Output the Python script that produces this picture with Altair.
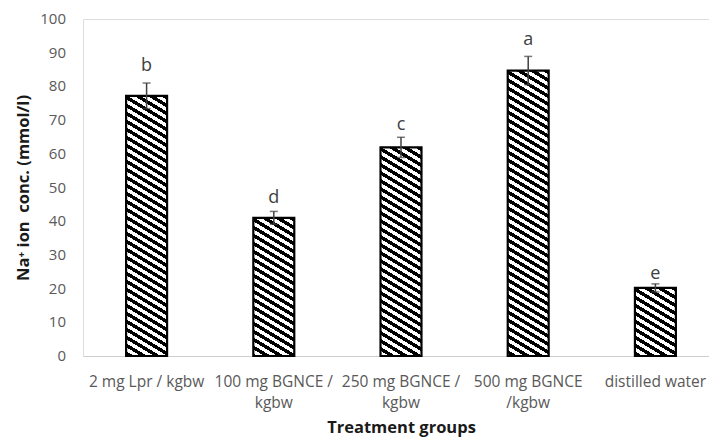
import json
import altair as alt
import pandas as pd

# ---- data ----
categories = ["2 mg Lpr / kgbw", "100 mg BGNCE / kgbw", "250 mg BGNCE / kgbw",
              "500 mg BGNCE /kgbw", "distilled water"]
tick_lines = [["2 mg Lpr / kgbw"], ["100 mg BGNCE /", "kgbw"], ["250 mg BGNCE /", "kgbw"],
              ["500 mg BGNCE", "/kgbw"], ["distilled water"]]
y_ticks = [0, 10, 20, 30, 40, 50, 60, 70, 80, 90, 100]
values = [77.2, 41.0, 61.9, 84.7, 20.2]
errors = [3.8, 1.9, 3.0, 4.2, 1.2]
letters = ["b", "d", "c", "a", "e"]
letter_pos = [86.0, 46.8, 68.6, 93.8, 24.2]

df = pd.DataFrame({
    "group": categories,
    "value": values,
    "lo": [v - e for v, e in zip(values, errors)],
    "hi": [v + e for v, e in zip(values, errors)],
    "letter": letters,
    "lpos": letter_pos,
})
ticks_df = pd.DataFrame({"t": y_ticks})

W, H = 626, 337
RANGE = 636
P_INNER = 0.678
step = RANGE / len(categories)
bar_w = step * (1 - P_INNER)

label_expr = " : ".join(
    f"datum.value === {json.dumps(c)} ? {json.dumps(l)}" for c, l in zip(categories, tick_lines)
) + " : datum.value"

x_axis = alt.Axis(title="Treatment groups", labelAngle=0, labelExpr=label_expr,
                  domainColor="#cfcfcf", domainWidth=1, ticks=False,
                  labelColor="#595959", labelFont="Open Sans", labelFontSize=15.5,
                  labelPadding=18, labelLineHeight=21, labelBaseline="top",
                  labelOverlap=False,
                  titleFont="Open Sans", titleFontSize=16.5, titleFontWeight="bold",
                  titleColor="#1a1a1a", titlePadding=9)
x_scale = alt.Scale(range=[0, RANGE], paddingInner=P_INNER, paddingOuter=P_INNER / 2)
y_scale = alt.Scale(domain=[0, 100], nice=False)
y_axis = alt.Axis(title="Na\u207a ion\u00a0 conc. (mmol/l)", values=y_ticks,
                  domain=False, ticks=False, grid=False, labels=False,
                  titleFont="Open Sans", titleFontSize=16.5, titleFontWeight="bold",
                  titleColor="#1a1a1a", titlePadding=52)


def X():
    return alt.X("group:N", sort=categories, scale=x_scale, axis=x_axis)


def Y(field):
    return alt.Y(field, scale=y_scale, axis=y_axis)


def stripe_gradient(h, w, slope=0.6, period=8.0, frac=0.5):
    S = h + slope * w
    k = S / (slope * slope * w * w + h * h)
    stops = []
    n = int(S / period) + 2
    for i in range(n):
        a = i * period / S
        b = (i * period + frac * period) / S
        c = (i + 1) * period / S
        if a > 1:
            break
        stops += [
            {"offset": min(a, 1), "color": "#000000"},
            {"offset": min(b, 1), "color": "#000000"},
            {"offset": min(b, 1), "color": "#ffffff"},
            {"offset": min(c, 1), "color": "#ffffff"},
        ]
    return {"gradient": "linear", "x1": 1, "y1": 0,
            "x2": 1 - slope * w * k, "y2": h * k, "stops": stops}


layers = []
for i, cat in enumerate(categories):
    h = values[i] / 100 * H
    grad = stripe_gradient(h, bar_w)
    layers.append(
        alt.Chart(df).transform_filter(alt.datum.group == cat)
        .mark_bar(fill=grad, stroke="#000000", strokeWidth=2.2)
        .encode(x=X(), y=Y("value:Q"))
    )

err = alt.Chart(df).mark_rule(color="#404040", strokeWidth=1.5).encode(
    x=X(), y=Y("lo:Q"), y2="hi:Q")
cap_hi = alt.Chart(df).mark_tick(color="#404040", thickness=1.5, size=8).encode(
    x=X(), y=Y("hi:Q"))
cap_lo = alt.Chart(df).mark_tick(color="#404040", thickness=1.5, size=8).encode(
    x=X(), y=Y("lo:Q"))
text = alt.Chart(df).mark_text(font="Open Sans", fontSize=18, color="#404040",
                               baseline="middle").encode(
    x=X(), y=Y("lpos:Q"), text="letter:N")
ylabels = alt.Chart(ticks_df).mark_text(font="Open Sans", fontSize=15, color="#595959",
                                         align="right", baseline="middle").encode(
    x=alt.value(-17), y=Y("t:Q"), text="t:Q")

chart = alt.layer(*layers, err, cap_hi, cap_lo, text, ylabels).properties(
    width=W, height=H,
    autosize=alt.AutoSizeParams(type="none"),
    padding={"left": 83, "top": 19, "right": 0, "bottom": 83},
).configure_view(stroke=None).configure(background="white")

chart.save("out.html", embed_options={"renderer": "svg", "actions": False})
